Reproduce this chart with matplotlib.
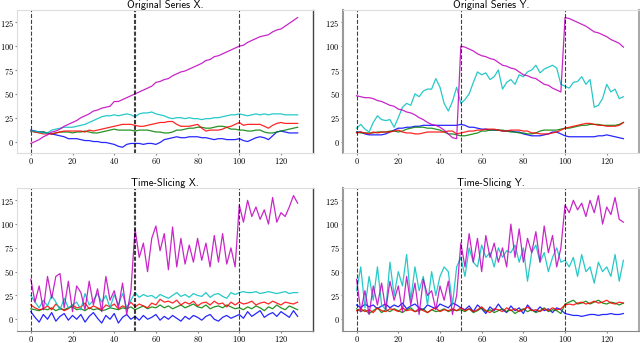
import numpy as np
import matplotlib
matplotlib.use("Agg")
import matplotlib.pyplot as plt

plt.rcParams['font.family'] = ['cmr10', 'DejaVu Sans']
plt.rcParams['axes.unicode_minus'] = False
plt.rcParams['axes.formatter.use_mathtext'] = True

# time index, read every second step (0, 2, ..., 128)
t = list(range(0, 130, 2))
xticks = [0, 20, 40, 60, 80, 100, 120]
yticks = [0, 25, 50, 75, 100, 125]
cuts_x = [0, 49.5, 50, 100]
cuts_y = [0, 50, 100]

# ---- Original Series X. ----
orig_x_blue = [12, 11, 10, 10, 9, 8, 7, 6, 5, 3, 3, 3, 2, 1, 1, 0, 0, -1, -1, -2,
               -3, -5, -6, -3, -2, -2, -2, -3, -2, -2, -3, -1, 2, 3, 4, 5, 4, 4, 5, 5,
               5, 4, 4, 3, 2, 3, 3, 2, 2, 2, 3, 1, 0, 2, 4, 5, 4, 2, 6, 10,
               11, 10, 9, 9, 9]
orig_x_green = [11, 10, 10, 10, 9, 8, 9, 10, 10, 10, 9, 10, 10, 11, 10, 9, 9, 10, 11, 12,
                13, 12, 12, 12, 12, 11, 12, 12, 12, 11, 10, 10, 9, 9, 10, 12, 12, 13, 14, 14,
                15, 15, 14, 14, 15, 16, 16, 15, 13, 13, 12, 12, 11, 11, 12, 12, 10, 9, 9, 10,
                11, 12, 13, 14, 15]
orig_x_red = [11, 10, 9, 8, 8, 8, 9, 10, 11, 11, 11, 11, 11, 10, 12, 11, 12, 13, 14, 15,
              16, 17, 18, 18, 18, 17, 16, 16, 17, 18, 19, 20, 20, 21, 21, 18, 16, 16, 16, 17,
              18, 14, 11, 12, 12, 12, 13, 15, 16, 18, 20, 17, 18, 18, 18, 18, 16, 14, 17, 19,
              20, 19, 19, 19, 19]
orig_x_cyan = [11, 11, 10, 9, 9, 12, 13, 14, 15, 15, 15, 16, 17, 18, 20, 22, 24, 26, 27, 27,
               28, 27, 28, 29, 28, 26, 29, 30, 30, 31, 29, 28, 27, 25, 24, 25, 25, 24, 25, 24,
               24, 23, 24, 24, 25, 25, 26, 27, 28, 28, 29, 28, 27, 28, 29, 28, 29, 28, 29, 29,
               29, 28, 28, 28, 28]
orig_x_magenta = [-2, 0, 2, 5, 7, 10, 11, 13, 16, 18, 20, 22, 25, 27, 29, 32, 33, 35, 36, 37,
                  42, 42, 44, 46, 48, 50, 52, 54, 56, 58, 62, 63, 65, 66, 69, 71, 73, 74, 76, 78,
                  80, 82, 85, 86, 89, 90, 92, 94, 96, 98, 100, 101, 104, 106, 108, 110, 111, 112, 115, 117,
                  118, 121, 124, 127, 130]

# ---- Original Series Y. ----
orig_y_blue = [10, 10, 8, 7, 7, 7, 7, 8, 10, 12, 14, 14, 15, 15, 16, 16, 17, 17, 17, 17,
               17, 17, 17, 17, 17, 18, 17, 15, 15, 14, 13, 13, 12, 12, 12, 11, 11, 11, 10, 10,
               8, 7, 6, 6, 6, 7, 8, 10, 10, 8, 6, 5, 5, 5, 5, 5, 5, 5, 6, 6,
               7, 6, 5, 4, 3]
orig_y_green = [10, 9, 9, 9, 9, 10, 10, 10, 11, 11, 10, 11, 13, 14, 15, 15, 15, 14, 14, 13,
                12, 10, 8, 8, 7, 6, 6, 7, 8, 9, 11, 11, 12, 12, 12, 12, 11, 10, 10, 9,
                9, 8, 8, 9, 11, 12, 12, 12, 12, 13, 14, 14, 15, 16, 17, 17, 18, 18, 18, 17,
                17, 17, 17, 18, 20]
orig_y_red = [9, 10, 9, 8, 10, 9, 10, 10, 10, 11, 12, 10, 9, 9, 8, 8, 9, 10, 10, 10,
              10, 10, 11, 11, 8, 9, 10, 11, 11, 12, 12, 13, 13, 13, 12, 11, 11, 12, 12, 12,
              11, 11, 9, 9, 8, 8, 8, 9, 10, 12, 14, 15, 16, 17, 18, 19, 19, 18, 17, 17,
              16, 16, 16, 17, 20]
orig_y_cyan = [14, 18, 13, 10, 20, 27, 23, 22, 23, 15, 25, 36, 40, 38, 50, 47, 53, 55, 55, 66,
               57, 40, 32, 42, 57, 40, 44, 50, 62, 73, 70, 72, 65, 68, 75, 55, 62, 65, 60, 70,
               68, 73, 75, 80, 72, 76, 78, 80, 77, 60, 58, 56, 62, 63, 68, 60, 65, 36, 38, 45,
               60, 52, 55, 45, 47]
orig_y_magenta = [48, 47, 46, 46, 45, 43, 42, 40, 38, 37, 34, 33, 31, 30, 28, 25, 23, 20, 18, 17,
                  15, 12, 8, 4, 3, 100, 99, 97, 95, 92, 90, 89, 87, 86, 83, 80, 79, 77, 76, 73,
                  70, 69, 67, 66, 63, 60, 59, 56, 54, 52, 130, 129, 127, 125, 123, 121, 118, 115, 114, 112,
                  110, 107, 105, 103, 99]

# ---- Time-Slicing X. ----
ts_x_blue = [8, 2, -3, 5, 0, 7, -2, 3, 6, -1, 4, 0, 5, -3, 3, 7, 1, -4, 4, 0,
             6, -4, 2, 5, 0, 3, -1, 4, 0, 2, 5, -1, 3, 0, 4, 1, -2, 3, 0, 4,
             2, -1, 3, 5, 0, -2, 2, 4, 1, 3, 5, 1, 8, 3, 6, 9, 2, 5, 7, 3,
             8, 5, 2, 9, 3]
ts_x_green = [11, 10, 9, 11, 10, 12, 9, 11, 10, 12, 13, 10, 11, 9, 12, 10, 11, 9, 10, 12,
              11, 10, 12, 11, 13, 10, 12, 14, 11, 13, 12, 15, 12, 14, 11, 13, 15, 12, 14, 16,
              13, 12, 15, 11, 13, 14, 12, 15, 13, 11, 12, 10, 13, 11, 14, 12, 9, 13, 11, 15,
              12, 10, 14, 12, 10]
ts_x_red = [15, 12, 10, 11, 14, 10, 16, 12, 9, 11, 15, 12, 13, 17, 11, 14, 12, 10, 15, 13,
            16, 11, 14, 12, 18, 13, 16, 14, 12, 17, 15, 21, 18, 19, 17, 20, 15, 18, 16, 19,
            14, 17, 18, 15, 19, 16, 17, 13, 18, 15, 18, 16, 17, 19, 15, 17, 18, 16, 19, 17,
            15, 18, 17, 16, 18]
ts_x_cyan = [25, 18, 12, 20, 14, 25, 18, 10, 22, 12, 15, 18, 10, 27, 15, 20, 27, 18, 25, 12,
             26, 15, 27, 12, 20, 28, 23, 26, 24, 25, 22, 26, 24, 22, 25, 28, 24, 26, 23, 27,
             25, 24, 28, 23, 26, 27, 24, 22, 28, 26, 28, 29, 28, 28, 29, 27, 28, 29, 28, 27,
             28, 29, 27, 28, 28]
ts_x_magenta = [42, 18, 35, 10, 45, 22, 45, 48, 12, 40, 8, 35, 28, 10, 40, 15, 32, 8, 45, 20,
                30, 12, 38, 5, 30, 95, 65, 80, 50, 85, 98, 72, 90, 52, 97, 55, 85, 58, 78, 60,
                85, 62, 80, 55, 88, 60, 90, 58, 75, 55, 120, 102, 125, 108, 118, 105, 115, 100, 128, 102,
                112, 108, 118, 130, 122]

# ---- Time-Slicing Y. ----
ts_y_blue = [15, 12, 16, 13, 15, 11, 14, 16, 12, 15, 13, 17, 11, 14, 16, 12, 10, 15, 13, 11,
             16, 14, 12, 17, 15, 12, 10, 14, 8, 15, 11, 6, 13, 9, 16, 10, 7, 14, 9, 12,
             6, 15, 10, 8, 13, 9, 11, 7, 12, 10, 6, 5, 4, 4, 3, 4, 5, 5, 4, 5,
             5, 6, 5, 5, 6]
ts_y_green = [11, 8, 10, 6, 9, 12, 7, 10, 8, 11, 9, 7, 10, 12, 8, 9, 11, 7, 10, 8,
              9, 11, 8, 10, 9, 10, 8, 11, 7, 9, 12, 8, 10, 7, 9, 11, 8, 10, 6, 9,
              11, 8, 10, 7, 9, 12, 8, 10, 9, 6, 16, 18, 20, 16, 17, 19, 16, 18, 20, 17,
              16, 18, 17, 15, 17]
ts_y_red = [9, 11, 8, 10, 7, 12, 9, 8, 11, 10, 8, 12, 9, 10, 8, 11, 9, 7, 10, 12,
            8, 10, 9, 11, 9, 12, 9, 11, 8, 10, 13, 9, 7, 11, 10, 8, 12, 9, 11, 8,
            10, 13, 9, 10, 8, 11, 9, 12, 10, 11, 15, 16, 15, 17, 18, 16, 17, 19, 17, 18,
            20, 17, 16, 18, 17]
ts_y_cyan = [30, 55, 12, 45, 20, 55, 15, 10, 60, 25, 50, 35, 68, 20, 55, 30, 45, 15, 50, 25,
             45, 55, 50, 15, 55, 65, 45, 75, 60, 55, 78, 65, 70, 55, 75, 65, 72, 70, 78, 60,
             75, 40, 70, 78, 60, 70, 50, 65, 75, 60, 62, 55, 65, 45, 68, 50, 55, 38, 60, 50,
             55, 45, 68, 40, 62]
ts_y_magenta = [42, 8, 30, 5, 35, 15, 38, 10, 40, 20, 35, 8, 45, 15, 38, 5, 42, 25, 30, 10,
                35, 20, 40, 5, 25, 80, 55, 90, 60, 85, 50, 88, 65, 80, 60, 75, 55, 100, 65, 95,
                60, 85, 70, 92, 60, 98, 70, 88, 55, 75, 120, 112, 125, 115, 122, 108, 125, 112, 130, 100,
                118, 110, 128, 105, 102]

panels = [
    ("Original Series X.", [orig_x_blue, orig_x_green, orig_x_red, orig_x_cyan, orig_x_magenta], cuts_x),
    ("Original Series Y.", [orig_y_blue, orig_y_green, orig_y_red, orig_y_cyan, orig_y_magenta], cuts_y),
    ("Time-Slicing X.", [ts_x_blue, ts_x_green, ts_x_red, ts_x_cyan, ts_x_magenta], cuts_x),
    ("Time-Slicing Y.", [ts_y_blue, ts_y_green, ts_y_red, ts_y_cyan, ts_y_magenta], cuts_y),
]
colors = ['b', 'g', 'r', 'c', 'm']

fig = plt.figure(figsize=(6.4, 3.43), dpi=100)
# axes boxes in figure fractions: left, bottom, width, height
boxes = [
    [0.027, 0.554, 0.4625, 0.417],
    [0.536, 0.554, 0.4625, 0.417],
    [0.027, 0.036, 0.4625, 0.416],
    [0.536, 0.036, 0.4625, 0.416],
]

for i, (title, series, cuts) in enumerate(panels):
    ax = fig.add_axes(boxes[i])
    for s, c in zip(series, colors):
        ax.plot(t, s, color=c, lw=0.9, alpha=0.85)
    for xc in cuts:
        ax.axvline(xc, color='k', ls='--', lw=0.8, alpha=0.75)
    ax.set_xlim(-6.5, 135.5)
    ax.set_ylim(-12, 138)
    ax.set_xticks(xticks)
    ax.set_yticks(yticks)
    ax.tick_params(labelsize=6, length=1.5, color='#888888', pad=1)
    ax.set_title(title, fontsize=7.5, pad=1.5, family=['cmss10', 'DejaVu Sans'])
    for sp in ax.spines.values():
        sp.set_color('#dddddd')
        sp.set_linewidth(0.8)
    if i % 2 == 0:
        ax.spines['right'].set_color('#444444')
        ax.spines['right'].set_linewidth(1.0)
    else:
        ax.spines['left'].set_color('#999999')
        ax.spines['left'].set_linewidth(1.5)
        ax.spines['right'].set_color('#aaaaaa')
        ax.spines['right'].set_linewidth(1.5)
    if i >= 2:
        ax.spines['bottom'].set_color('#888888')

fig.savefig("out.png", dpi=100)
